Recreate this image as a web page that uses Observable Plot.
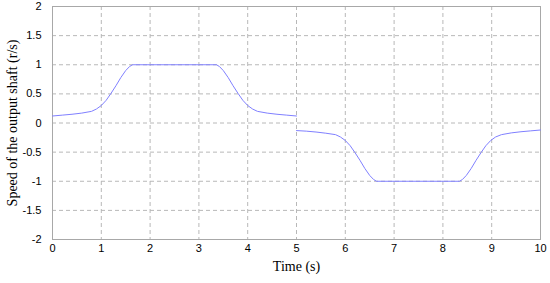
<!DOCTYPE html>
<html>
<head>
<meta charset="utf-8">
<script src="https://cdn.jsdelivr.net/npm/d3@7"></script>
<script src="https://cdn.jsdelivr.net/npm/@observablehq/plot@0.6"></script>
<style>
  html, body { margin: 0; padding: 0; background: #fff; }
</style>
</head>
<body>
<div id="chart"></div>
<script>
// Segment 1 (0–5 s)
const time1  = [0, 0.2, 0.4, 0.6, 0.8, 0.9, 1.0, 1.1, 1.2, 1.3, 1.4, 1.5, 1.58, 1.64, 3.36, 3.42, 3.5, 3.6, 3.7, 3.8, 3.9, 4.0, 4.1, 4.2, 4.4, 4.6, 4.8, 5.0];
const speed1 = [0.12, 0.135, 0.15, 0.17, 0.2, 0.24, 0.3, 0.39, 0.51, 0.64, 0.78, 0.9, 0.97, 1, 1, 0.97, 0.9, 0.78, 0.64, 0.51, 0.39, 0.3, 0.24, 0.2, 0.17, 0.15, 0.135, 0.12];
// Segment 2 (5–10 s)
const time2  = [5.0, 5.2, 5.4, 5.6, 5.8, 5.9, 6.0, 6.1, 6.2, 6.3, 6.4, 6.5, 6.58, 6.64, 8.34, 8.4, 8.48, 8.58, 8.68, 8.78, 8.88, 8.98, 9.08, 9.2, 9.4, 9.6, 9.8, 10.0];
const speed2 = [-0.13, -0.14, -0.155, -0.175, -0.2, -0.24, -0.3, -0.39, -0.51, -0.64, -0.78, -0.9, -0.97, -1, -1, -0.97, -0.9, -0.78, -0.64, -0.51, -0.39, -0.3, -0.24, -0.2, -0.17, -0.15, -0.135, -0.12];

const xTicks = [0, 1, 2, 3, 4, 5, 6, 7, 8, 9, 10];
const yTicks = [-2, -1.5, -1, -0.5, 0, 0.5, 1, 1.5, 2];

const data = [
  ...time1.map((t, i) => ({t, v: speed1[i], seg: 1})),
  ...time2.map((t, i) => ({t, v: speed2[i], seg: 2}))
];

const chart = Plot.plot({
  width: 550,
  height: 283,
  marginLeft: 52,
  marginRight: 10,
  marginTop: 6,
  marginBottom: 44,
  style: {fontFamily: "'Liberation Sans', Arial, sans-serif", fontSize: "11px", color: "#000", background: "#fff"},
  x: {domain: [0, 10]},
  y: {domain: [-2, 2]},
  marks: [
    Plot.gridX(xTicks, {stroke: "#b8b8b8", strokeOpacity: 1, strokeDasharray: "4,3"}),
    Plot.gridY(yTicks, {stroke: "#b8b8b8", strokeOpacity: 1, strokeDasharray: "4,3"}),
    Plot.frame({stroke: "#a8a8a8"}),
    Plot.axisX(xTicks, {tickSize: 0, tickPadding: 5, label: null, tickFormat: d => String(d)}),
    Plot.axisY(yTicks, {tickSize: 0, tickPadding: 11, label: null, tickFormat: d => String(d)}),
    Plot.line(data, {x: "t", y: "v", z: "seg", stroke: "#8080ff", strokeWidth: 1}),
    Plot.text(["Time (s)"], {frameAnchor: "bottom", textAnchor: "middle", dy: 31, fontFamily: "'Liberation Serif', 'Times New Roman', serif", fontSize: 14}),
    Plot.text(["Speed of the output shaft (r/s)"], {frameAnchor: "left", textAnchor: "middle", dx: -40, rotate: -90, fontFamily: "'Liberation Serif', 'Times New Roman', serif", fontSize: 14})
  ]
});
document.getElementById("chart").appendChild(chart);
</script>
</body>
</html>
